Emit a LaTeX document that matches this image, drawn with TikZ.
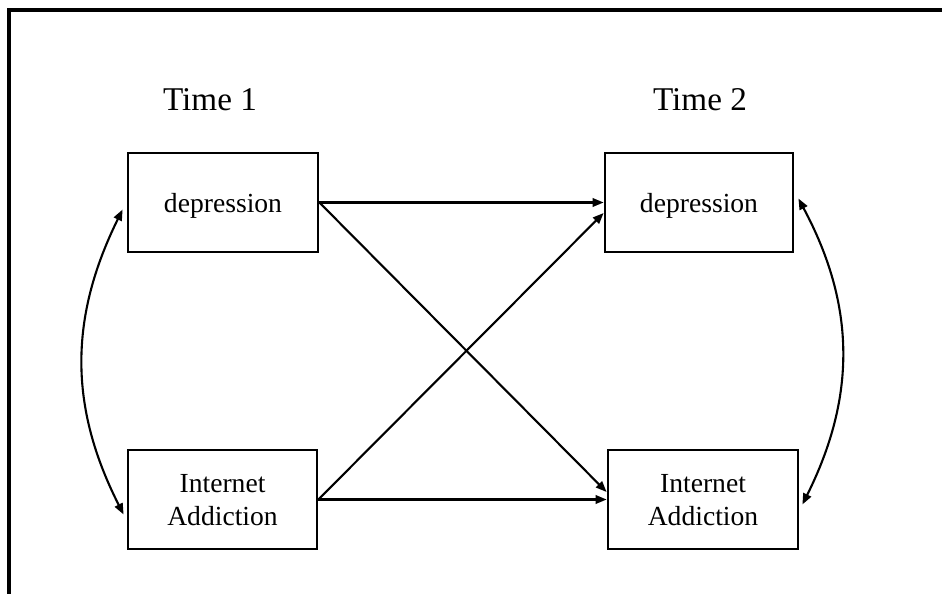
\documentclass[tikz,border=0pt]{standalone}
\usepackage{fontspec}
\setmainfont{Liberation Serif}
\usetikzlibrary{arrows.meta}
\begin{document}
\begin{tikzpicture}[x=1pt,y=-1pt,
  varbox/.style={draw=black,line width=2.8pt,minimum height=99pt,align=center,
    text depth=0pt,inner sep=0pt,font=\fontsize{27.6}{33}\selectfont},
  timelabel/.style={anchor=base,inner sep=0pt,font=\fontsize{33.2}{40}\selectfont},
  path/.style={line width=2.1pt,-{Triangle[length=11pt,width=8.5pt]}},
  cov/.style={line width=2.1pt,{Triangle[length=11pt,width=8.5pt]}-{Triangle[length=11pt,width=8.5pt]}}]
  \useasboundingbox (0,0) rectangle (942,594);
  % open frame: left and top sides only
  \draw[line width=4pt] (8.5,600) -- (8.5,10.5) -- (950,10.5);

  % wave labels
  \node[timelabel] (t1) at (210,110) {Time 1};
  \node[timelabel] (t2) at (700,110) {Time 2};

  % measured variables
  \node[varbox,minimum width=190pt] (tl) at (223,202.5) {depression};
  \node[varbox,minimum width=188pt] (tr) at (699,202.5) {depression};
  \node[varbox,minimum width=189pt] (bl) at (222.5,499.5) {Internet\\Addiction};
  \node[varbox,minimum width=190pt] (br) at (703,499.5) {Internet\\Addiction};

  % autoregressive and cross-lagged paths
  \draw[path] (tl.east) -- (tr.west);
  \draw[path] (tl.east) -- ([yshift=7.5pt]br.west);
  \draw[path] (bl.east) -- ([yshift=-10.5pt]tr.west);
  \draw[path] (bl.east) -- (br.west);

  % within-wave covariances
  \draw[cov] ([shift={(-4,7)}]tl.west) .. controls (69,318) and (69,407) .. ([shift={(-3,15)}]bl.west);
  \draw[cov] ([shift={(4,-4)}]tr.east) .. controls (856,306) and (856,397) .. ([shift={(3,5)}]br.east);
\end{tikzpicture}
\end{document}
